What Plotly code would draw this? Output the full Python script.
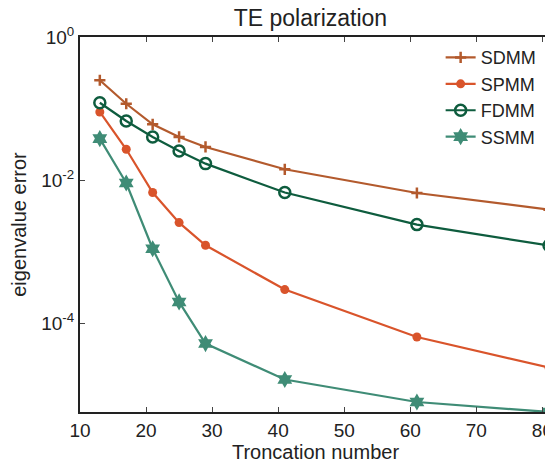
import plotly.graph_objects as go

n_trunc = [13, 17, 21, 25, 29, 41, 61, 81]
sdmm = [0.249, 0.117, 0.0605, 0.0403, 0.0292, 0.01426, 0.00665, 0.0039]
spmm = [0.0899, 0.0271, 0.00675, 0.00257, 0.00124, 0.000299, 6.52e-5, 2.44e-5]
fdmm = [0.121, 0.0673, 0.0403, 0.0257, 0.0171, 0.00675, 0.00241, 0.00123]
ssmm = [0.0382, 0.00918, 0.00111, 0.000201, 5.27e-5, 1.66e-5, 8.07e-6, 5.85e-6]

x_ticks = [10, 20, 30, 40, 50, 60, 70, 80]
y_ticks = [1e-4, 1e-2, 1]
y_ticktext = ["10<sup>-4</sup>", "10<sup>-2</sup>", "10<sup>0</sup>"]

fig = go.Figure()
series = [
    ("SDMM", sdmm, "#b35a2d", dict(symbol="cross-thin", size=8, line=dict(width=2.5, color="#b35a2d"))),
    ("SPMM", spmm, "#d9542b", dict(symbol="circle", size=9, color="#d9542b")),
    ("FDMM", fdmm, "#0e5c3e", dict(symbol="circle-open", size=11, line=dict(width=2.5, color="#0e5c3e"))),
    ("SSMM", ssmm, "#3f8c76", dict(symbol="hexagram", size=13, color="#3f8c76", line=dict(width=0))),
]
for name, vals, col, mk in series:
    fig.add_trace(go.Scatter(x=n_trunc, y=vals, name=name, mode="lines+markers",
                             line=dict(color=col, width=2.2), marker=mk, cliponaxis=True))

font = "Liberation Sans, Arial, Helvetica, sans-serif"
fig.update_layout(
    width=545, height=456,
    margin=dict(l=71, r=0, t=29, b=52),
    plot_bgcolor="white", paper_bgcolor="white",
    font=dict(family=font, size=19, color="#222"),
    title=dict(text="TE polarization", x=0.555, xanchor="center", y=0.978, yanchor="middle",
               font=dict(size=23, family=font, color="#222")),
    showlegend=True,
    legend=dict(x=0.978, y=0.994, xanchor="right", yanchor="top", bgcolor="rgba(0,0,0,0)",
                font=dict(size=18, family=font, color="#222"), tracegroupgap=0, itemwidth=30),
    xaxis=dict(range=[10, 81.3], tickvals=x_ticks, ticks="inside", ticklen=5, tickwidth=1,
               showline=True, linecolor="#222", linewidth=2, mirror="ticks", showgrid=False,
               zeroline=False, title=dict(text="Troncation number", standoff=0, font=dict(size=20)),
               tickfont=dict(size=19)),
    yaxis=dict(type="log", range=[-5.233, 0], tickvals=y_ticks, ticktext=y_ticktext,
               ticks="inside", ticklen=5, tickwidth=1, showline=True, linecolor="#222", linewidth=2,
               mirror="ticks", showgrid=False, zeroline=False,
               title=dict(text="eigenvalue error", standoff=19, font=dict(size=20)),
               tickfont=dict(size=19)),
)
fig.write_html("out.html")
